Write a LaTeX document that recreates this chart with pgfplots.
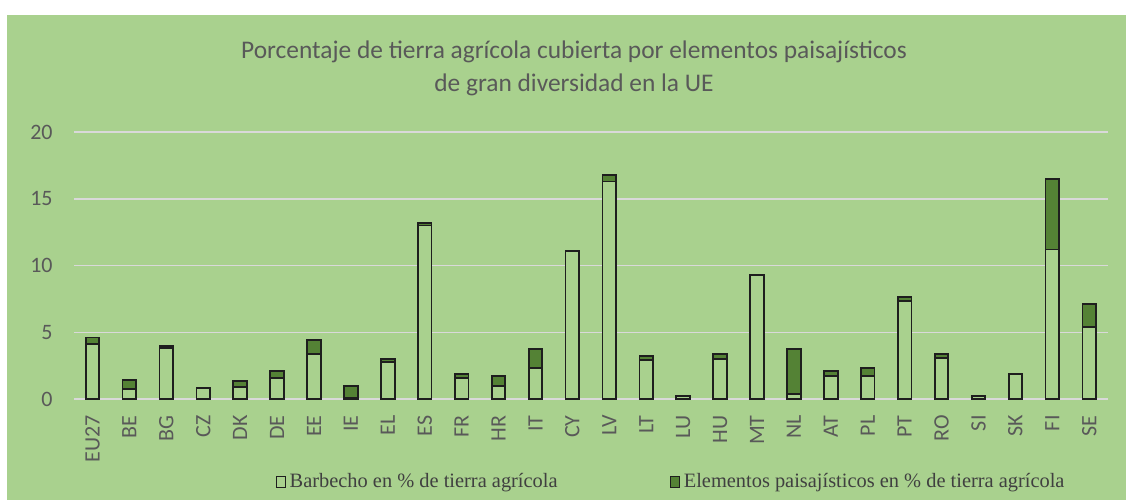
\documentclass[border=0pt]{standalone}
\usepackage{pgfplots}
\usepackage{pgfplotstable}
\pgfplotsset{compat=1.18}
\usepackage{fontspec}
\setmainfont{Liberation Serif}
\newfontfamily\calfont{Carlito}
\definecolor{bg}{HTML}{A9D18E}
\definecolor{dk}{HTML}{548235}
\definecolor{gridgray}{HTML}{D9D9D9}
\definecolor{txt}{HTML}{595959}
\definecolor{legtxt}{HTML}{404040}
\definecolor{edge}{HTML}{1E1E1E}
\pgfplotstableread{
x lab b e
0 EU27 4.1 0.5
1 BE 0.75 0.7
2 BG 3.8 0.2
3 CZ 0.85 0
4 DK 0.9 0.45
5 DE 1.6 0.5
6 EE 3.4 1.0
7 IE 0.1 0.9
8 EL 2.8 0.2
9 ES 13.0 0.2
10 FR 1.6 0.3
11 HR 1.0 0.7
12 IT 2.35 1.4
13 CY 11.1 0
14 LV 16.3 0.5
15 LT 2.9 0.3
16 LU 0.25 0
17 HU 3.0 0.4
18 MT 9.3 0
19 NL 0.35 3.4
20 AT 1.7 0.4
21 PL 1.7 0.65
22 PT 7.35 0.3
23 RO 3.1 0.3
24 SI 0.25 0
25 SK 1.9 0
26 FI 11.2 5.3
27 SE 5.4 1.7
}\data
\begin{document}
\begin{tikzpicture}[x=1pt,y=1pt]
\fill[white] (0,0) rectangle (563,250);
\fill[bg] (3.5,0) rectangle (563,242.5);
\node[font=\calfont\fontsize{12.7}{14}\selectfont, text=txt, align=center] at (287,224) {Porcentaje de tierra agrícola cubierta por elementos paisajísticos};
\node[font=\calfont\fontsize{12.7}{14}\selectfont, text=txt, align=center] at (287,207.5) {de gran diversidad en la UE};
\begin{axis}[
  at={(37pt,50.5pt)}, anchor=south west,
  scale only axis, width=516.85pt, height=133.5pt,
  xmin=-0.5, xmax=27.5, ymin=0, ymax=20,
  enlargelimits=false,
  ybar stacked, bar width=6.8pt,
  ytick={0,5,10,15,20},
  xtick=data,
  xticklabels from table={\data}{lab},
  axis line style={draw=none},
  major tick length=0pt,
  tick style={draw=none},
  ymajorgrids,
  grid style={color=gridgray, line width=0.75pt},
  /pgf/number format/assume math mode=true,
  yticklabel style={font=\calfont\fontsize{11}{13}\selectfont, text=txt, inner sep=0pt, anchor=east, xshift=-10.5pt},
  xticklabel style={font=\calfont\fontsize{11}{13}\selectfont, text=txt, inner sep=0pt, yshift=-8pt, rotate=90, anchor=east},
  legend columns=2,
  legend style={at={(0.5785,-0.311)}, anchor=center, draw=none, fill=none,
    font=\fontsize{10.2}{12}\selectfont, text=legtxt, inner sep=0pt,
    /tikz/every even column/.append style={column sep=54pt}},
  legend image code/.code={\draw[#1, line width=0.6pt] (0pt,-2.8pt) rectangle (4.5pt,2.8pt);},
]
\addplot[fill=bg, draw=edge, line width=0.9pt] table[x=x, y=b] {\data};
\addlegendentry{Barbecho en \% de tierra agrícola}
\addplot[fill=dk, draw=edge, line width=0.9pt] table[x=x, y=e] {\data};
\addlegendentry{Elementos paisajísticos en \% de tierra agrícola}
\end{axis}
\end{tikzpicture}
\end{document}
